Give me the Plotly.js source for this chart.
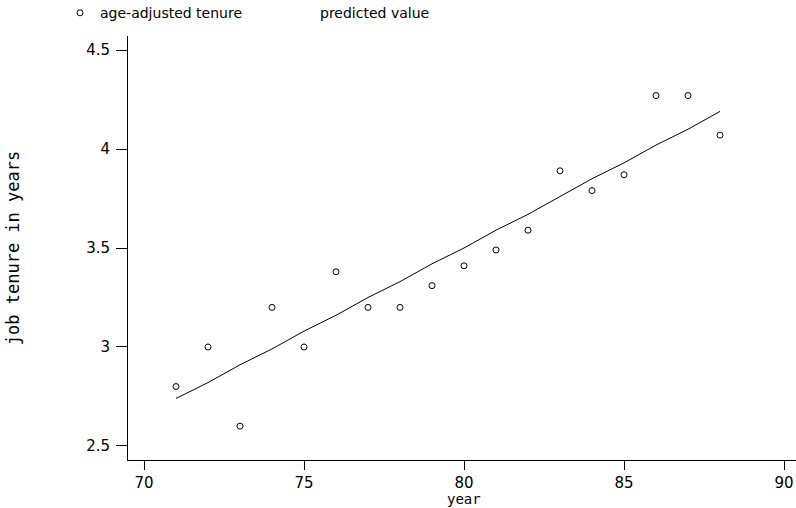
<!DOCTYPE html>
<html><head><meta charset="utf-8">
<script src="https://cdn.plot.ly/plotly-3.0.1.min.js"></script>
<style>html,body{margin:0;padding:0;background:#fff}#c{width:796px;height:508px}</style>
</head><body><div id="c"></div>
<script>
const years = [71,72,73,74,75,76,77,78,79,80,81,82,83,84,85,86,87,88];
const tenure = [2.80,3.00,2.60,3.20,3.00,3.38,3.20,3.20,3.31,3.41,3.49,3.59,3.89,3.79,3.87,4.27,4.27,4.07];
const predicted = [2.74,2.82,2.91,2.99,3.08,3.16,3.25,3.33,3.42,3.50,3.59,3.67,3.76,3.85,3.93,4.02,4.10,4.19];
const xTicks = [70,75,80,85,90];
const yTicks = [2.5,3,3.5,4,4.5];
const yTickText = ['2.5','3','3.5','4','4.5'];
const xTitle = 'year';
const yTitle = 'job tenure in years';

const F = "'DejaVu Sans', sans-serif";
const M = "'DejaVu Sans Mono', monospace";
const traces = [
  {x: years, y: tenure, mode: 'markers', name: 'age-adjusted tenure',
   marker: {symbol: 'circle-open', size: 6, color: '#000', line: {width: 1, color: '#000'}}},
  {x: years, y: predicted, mode: 'lines', name: 'predicted value', showlegend: false,
   line: {color: '#000', width: 1}},
  {x: [null], y: [null], mode: 'markers', name: 'predicted value',
   marker: {color: 'rgba(0,0,0,0)', size: 1, line: {width: 0, color: 'rgba(0,0,0,0)'}}}
];
const layout = {
  width: 796, height: 508,
  margin: {l: 128, r: 0, t: 36, b: 48, autoexpand: false},
  paper_bgcolor: '#fff', plot_bgcolor: '#fff',
  font: {family: F, size: 15, color: '#000'},
  showlegend: true,
  legend: {orientation: 'h', xref: 'container', yref: 'container',
           x: 0.0754, xanchor: 'left', y: 0.974, yanchor: 'middle',
           entrywidth: 175, font: {family: F, size: 14, color: '#000'},
           bgcolor: 'rgba(0,0,0,0)'},
  annotations: [{text: xTitle, xref: 'paper', yref: 'paper', x: 0.5029, y: -0.092,
                 xanchor: 'center', yanchor: 'middle', showarrow: false,
                 font: {family: M, size: 14, color: '#000'}}],
  xaxis: {range: [69.5, 90.375], tickvals: xTicks, ticktext: xTicks.map(String),
          showgrid: false, zeroline: false, showline: true, linecolor: '#000', linewidth: 1,
          ticks: 'outside', ticklen: 9, tickcolor: '#000', tickwidth: 1,
          tickfont: {family: F, size: 15, color: '#000'}},
  yaxis: {range: [2.429, 4.571], tickvals: yTicks, ticktext: yTickText,
          showgrid: false, zeroline: false, showline: true, linecolor: '#000', linewidth: 1,
          ticks: 'outside', ticklen: 11, tickcolor: '#000', tickwidth: 1, ticklabelstandoff: 3,
          tickfont: {family: F, size: 15, color: '#000'},
          title: {text: yTitle, standoff: 62, font: {family: M, size: 17, color: '#000'}}}
};
Plotly.newPlot('c', traces, layout, {displayModeBar: false, staticPlot: true});
</script></body></html>
